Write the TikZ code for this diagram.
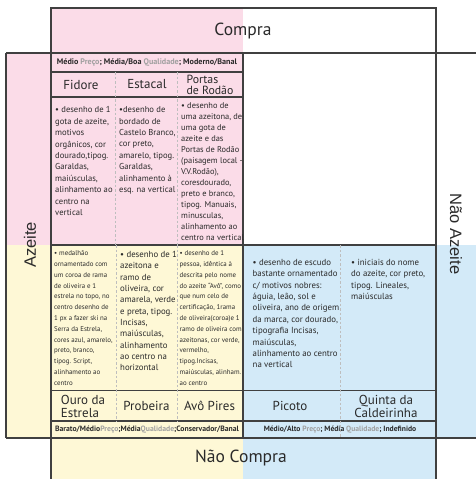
\documentclass[tikz,border=0pt]{standalone}
\usepackage{fontspec}
\setmainfont{PT Sans}
\newfontfamily\sidefont{Liberation Sans}
\usetikzlibrary{positioning}
\definecolor{cpinkbg}{HTML}{FBDCE8}
\definecolor{cyellowbg}{HTML}{FEF8D6}
\definecolor{cbluebg}{HTML}{D3EAF8}
\definecolor{cframe}{HTML}{404040}
\definecolor{cdivider}{HTML}{BEBEBE}
\definecolor{ctextdark}{HTML}{2A2A2A}
\definecolor{ctextlight}{HTML}{A0A0A0}
\newcommand{\preco}{\textcolor{ctextlight}{Preço}}
\newcommand{\qualid}{\textcolor{ctextlight}{Qualidade}}

\begin{document}
\begin{tikzpicture}[
    x=1pt, y=-1pt,
    frame/.style={draw=cframe, line width=1.2pt},
    divider/.style={draw=cdivider, line width=0.7pt, dash pattern=on 2.5pt off 2pt},
    axislabel/.style={font=\fontsize{17.5}{20}\selectfont, text=ctextdark, inner sep=0pt},
    sidelabel/.style={font=\sidefont\fontsize{16.5}{20}\selectfont, text=ctextdark, inner sep=0pt},
    brandname/.style={font=\fontsize{13}{12.7}\selectfont, text=ctextdark, inner sep=0pt},
    tagline/.style={font=\bfseries\fontsize{7.6}{8}\selectfont, text=ctextdark, inner sep=0pt},
    desc/.style={anchor=north west, align=left, inner sep=0pt, text=ctextdark,
        font=\fontsize{8.6}{11.4}\selectfont},
    desctiny/.style={desc, font=\fontsize{6.9}{10.8}\selectfont},
]
\useasboundingbox (0,0) rectangle (476,479);

% ============================================================
% BACKGROUNDS
% ============================================================
\fill[cpinkbg] (51,8) rectangle (243,53);
\fill[cpinkbg] (6,53) rectangle (243,245);
\fill[cyellowbg] (6,245) rectangle (243,438);
\fill[cyellowbg] (51,438) rectangle (243,479);
\fill[cbluebg] (243,245) rectangle (476,438);
\fill[cbluebg] (243,438) rectangle (436,479);

% ============================================================
% FRAME
% ============================================================
\draw[frame] (51,479) -- (51,8) -- (436,8) -- (436,479);
\draw[frame] (6,53) -- (476,53);
\draw[frame] (6,438) -- (476,438);
\draw[frame] (6,53) -- (6,438);
\draw[frame] (243,53) -- (243,438);
\draw[frame] (51,245) -- (436,245);
\draw[frame] (51,72) -- (243,72);
\draw[frame] (51,97) -- (243,97);
\draw[frame] (51,390.5) -- (436,390.5);
\draw[frame] (51,421) -- (436,421);

% column dividers
\draw[divider] (115.5,72) -- (115.5,245);
\draw[divider] (177,72) -- (177,245);
\draw[divider] (116,245) -- (116,421);
\draw[divider] (177,245) -- (177,421);
\draw[divider] (340,245) -- (340,438);

% ============================================================
% AXES
% ============================================================
\node[axislabel] (compra) at (243,31) {Compra};
\node[axislabel] (naocompra) at (241,458) {Não Compra};
\node[sidelabel, rotate=90] (azeite) at (30,245) {Azeite};
\node[sidelabel, rotate=-90] (naoazeite) at (456,234) {Não Azeite};

% ============================================================
% COMPRA / AZEITE
% ============================================================
\node[tagline, font=\bfseries\fontsize{8.1}{9}\selectfont] (tagtop) at (147,62.5)
    {Médio \preco; Média/Boa \qualid; Moderno/Banal};

\node[brandname] (fidore) at (81,84.5) {Fidore};
\node[brandname] (estacal) at (147,84.5) {Estacal};
\node[brandname, align=left, font=\fontsize{11.8}{11.2}\selectfont]
    (portas) at (210,84.6) {Portas\\de Rodão};

\node[desc] (descfidore) at (55,106.5) {%
• desenho de 1\\gota de azeite,\\motivos\\orgânicos, cor\\dourado,tipog.\\%
Garaldas,\\maiúsculas,\\alinhamento ao\\centro na\\vertical};
\node[desc] (descestacal) at (119,106.5) {%
•desenho de\\bordado de\\Castelo Branco,\\cor preto,\\amarelo, tipog.\\%
Garaldas,\\alinhamento à\\esq. na vertical};
\node[desc, font=\fontsize{8.4}{11}\selectfont] (descportas) at (181,102.5) {%
• desenho de\\uma azeitona, de\\uma gota de\\azeite e das\\Portas de Rodão\\%
(paisagem local -\\V.V.Rodão),\\coresdourado,\\preto e branco,\\tipog. Manuais,\\%
minusculas,\\alinhamento ao\\centro na vertical};

% ============================================================
% NÃO COMPRA / AZEITE
% ============================================================
\node[desctiny] (descouro) at (54,250.5) {%
• medalhão\\ornamentado com\\um coroa de rama\\de oliveira e 1\\estrela no topo, no\\%
centro desenho de\\1 px a fazer ski na\\Serra da Estrela,\\cores azul, amarelo,\\%
preto, branco,\\tipog. Script,\\alinhamento ao\\centro};
\node[desc, font=\fontsize{8.8}{11.33}\selectfont] (descprobeira) at (120,251) {%
• desenho de 1\\azeitona e\\ramo de\\oliveira, cor\\amarela, verde\\%
e preta, tipog.\\Incisas,\\maiúsculas,\\alinhamento\\ao centro na\\horizontal};
\node[desctiny] (descavo) at (179.5,250.5) {%
• desenho de 1\\pessoa, idêntica à\\descrita pelo nome\\do azeite “Avô”, como\\%
que num celo de\\certificação, 1rama\\de oliveira(coroa)e 1\\ramo de oliveira com\\%
azeitonas, cor verde,\\vermelho,\\tipog.Incisas,\\maiúsculas, alinham.\\ao centro};

\node[brandname, align=left] (ouro) at (83,406.5) {Ouro da\\Estrela};
\node[brandname] (probeira) at (146.5,406) {Probeira};
\node[brandname] (avopires) at (209.5,406) {Avô Pires};

\node[tagline, font=\bfseries\fontsize{7.7}{8}\selectfont] (tagleft) at (147,430)
    {Barato/Médio\preco;Média\qualid;Conservador/Banal};

% ============================================================
% NÃO COMPRA / NÃO AZEITE
% ============================================================
\node[desc, font=\fontsize{8.8}{11.4}\selectfont] (descpicoto) at (252.5,259) {%
• desenho de escudo\\bastante ornamentado\\c/ motivos nobres:\\águia, leão, sol e\\%
oliveira, ano de origem\\da marca, cor dourado,\\tipografia Incisas,\\maiúsculas,\\%
alinhamento ao centro\\na vertical};
\node[desc, font=\fontsize{8.8}{11.4}\selectfont] (descquinta) at (351,259) {%
• iniciais do nome\\do azeite, cor preto,\\tipog. Lineales,\\maiúsculas};

\node[brandname] (picoto) at (290,406) {Picoto};
\node[brandname, align=center] (quinta) at (386,406.5) {Quinta da\\Caldeirinha};

\node[tagline] (tagright) at (340,430)
    {Médio/Alto \preco; Média \qualid; Indefinido};

\end{tikzpicture}
\end{document}
